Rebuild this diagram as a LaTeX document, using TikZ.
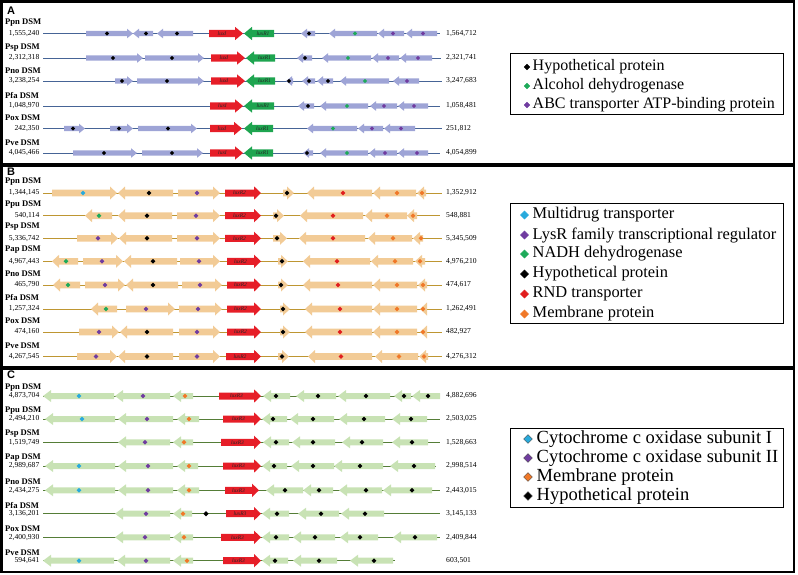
\documentclass[tikz,border=0pt]{standalone}
\usepackage{fontspec}
\setmainfont{Liberation Serif}
\newfontfamily\letterfont{Liberation Sans}

\definecolor{geneA}{RGB}{158,164,214}
\definecolor{lineA}{RGB}{70,100,150}
\definecolor{geneB}{RGB}{242,203,150}
\definecolor{lineB}{RGB}{190,150,50}
\definecolor{geneC}{RGB}{200,226,180}
\definecolor{lineC}{RGB}{85,125,55}
\definecolor{luxred}{RGB}{230,30,40}
\definecolor{luxgreen}{RGB}{30,165,80}
\definecolor{dblack}{RGB}{0,0,0}
\definecolor{dgreen}{RGB}{30,170,90}
\definecolor{dpurple}{RGB}{112,60,160}
\definecolor{dcyan}{RGB}{40,170,220}
\definecolor{dred}{RGB}{225,30,30}
\definecolor{dorange}{RGB}{240,120,40}

% gene arrow: tail, head, y, dot x, dot colour
\newcommand\gene[5]{%
  \pgfmathsetmacro\hs{#2>#1 ? max(#1,#2-\hl) : min(#1,#2+\hl)}
  \fill[gene] (#1,#3-\bh) -- (\hs,#3-\bh) -- (\hs,#3-\hh) -- (#2,#3)
    -- (\hs,#3+\hh) -- (\hs,#3+\bh) -- (#1,#3+\bh) -- cycle;
  \fill[#5] (#4,#3) +(0,-\dr) -- +(\dr,0) -- +(0,\dr) -- +(-\dr,0) -- cycle;}
% lux gene: name, tail, head, y, fill, label
\newcommand\luxgene[6]{%
  \pgfmathsetmacro\hs{#3>#2 ? #3-\lhl : #3+\lhl}
  \fill[#5] (#2,#4-\lbh) -- (\hs,#4-\lbh) -- (\hs,#4-\lhh) -- (#3,#4)
    -- (\hs,#4+\lhh) -- (\hs,#4+\lbh) -- (#2,#4+\lbh) -- cycle;
  \node[luxtext] (#1) at ({(#2+\hs)/2},#4) {#6};}
% strain row: name, y, label, left number, right number, line start, line end
\newcommand\strain[7]{%
  \draw[gline] (#6,#2) -- (#7,#2);
  \node[strain] (#1) at (5,#2-\lo) {#3 DSM};
  \node[startpos] (#1s) at (39.5,#2) {#4};
  \node[endpos] (#1e) at (446,#2) {#5};}
\newcommand\keydia[4]{%
  \filldraw[#4] (#1,#2) +(0,-#3) -- +(#3,0) -- +(0,#3) -- +(-#3,0) -- cycle;}

\begin{document}
\begin{tikzpicture}[x=1pt,y=-1pt,
  panel/.style={draw=black, line width=2.4pt},
  strain/.style={anchor=west, inner sep=0pt, font=\fontsize{8.6}{9}\selectfont\bfseries},
  startpos/.style={anchor=east, inner sep=0pt, font=\fontsize{7.6}{8}\selectfont},
  endpos/.style={anchor=west, inner sep=0pt, font=\fontsize{7.6}{8}\selectfont},
  luxtext/.style={inner sep=0pt, text=black!85, font=\fontsize{5.5}{6}\selectfont\itshape},
  panelname/.style={inner sep=0pt, font=\letterfont\bfseries\fontsize{11}{11}\selectfont},
  keybox/.style={draw=black, line width=0.8pt},
  keytext/.style={anchor=west, inner sep=0pt}]
\useasboundingbox (0,0) rectangle (798,574);

% panels
\draw[panel] (1.5,1.5) rectangle (794,164);
\draw[panel] (1.5,166) rectangle (794,367);
\draw[panel] (1.5,369) rectangle (794,572);
\node[panelname] (pA) at (11,10.5) {A};
\node[panelname] (pB) at (11,171.5) {B};
\node[panelname] (pC) at (11,374.5) {C};

%%% A
\begin{scope}[gene/.style={fill=geneA}, gline/.style={draw=lineA, line width=1pt}]
\def\bh{2.7}\def\hh{4.8}\def\hl{6}\def\dr{2.2}
\def\lbh{3.7}\def\lhh{6.7}\def\lhl{8}\def\lo{10.5}
\strain{aPpn}{33.5}{Ppn}{1,555,240}{1,564,712}{43}{440}
\foreach \ta/\hd/\dx/\dc in {86/133/107/dblack,153/133/146/dblack,193/157/177/dblack,315/301/309/dblack,377/329/355/dgreen,404/378/393/dpurple,437/406/423/dpurple}
  {\gene{\ta}{\hd}{33.5}{\dx}{\dc}}
\luxgene{aPpnI}{209}{243}{33.5}{luxred}{luxI}
\luxgene{aPpnR}{274}{244}{33.5}{luxgreen}{luxR1}

\strain{aPsp}{58}{Psp}{2,312,318}{2,321,741}{43}{441}
\foreach \ta/\hd/\dx/\dc in {86/143/113/dblack,145/204/172/dblack,312/297/305/dblack,371/322/348/dgreen,399/372/388/dpurple,432/400/418/dpurple}
  {\gene{\ta}{\hd}{58}{\dx}{\dc}}
\luxgene{aPspI}{211}{245}{58}{luxred}{luxI}
\luxgene{aPspR}{275}{246}{58}{luxgreen}{luxR1}

\strain{aPno}{81}{Pno}{3,238,254}{3,247,683}{43}{442}
\foreach \ta/\hd/\dx/\dc in {115/133/122/dblack,137/204/167/dblack,293/286/289/dblack,315/302/309/dblack,333/317/328/dblack,389/340/365/dgreen,419/393/407/dpurple}
  {\gene{\ta}{\hd}{81}{\dx}{\dc}}
\luxgene{aPnoI}{211}{245}{81}{luxred}{luxI}
\luxgene{aPnoR}{275}{246}{81}{luxgreen}{luxR1}

\strain{aPfa}{106}{Pfa}{1,048,970}{1,058,481}{43}{440}
\foreach \ta/\hd/\dx/\dc in {314/298/308/dblack,368/320/347/dgreen,397/370/384/dpurple,428/398/414/dpurple}
  {\gene{\ta}{\hd}{106}{\dx}{\dc}}
\luxgene{aPfaI}{210}{243}{106}{luxred}{luxI}
\luxgene{aPfaR}{274}{244}{106}{luxgreen}{luxR1}

\strain{aPox}{128.5}{Pox}{242,350}{251,812}{43}{442}
\foreach \ta/\hd/\dx/\dc in {64/85/73/dblack,110/133/119/dblack,138/197/168/dblack,357/307/333/dgreen,383/358/372/dpurple,415/384/401/dpurple}
  {\gene{\ta}{\hd}{128.5}{\dx}{\dc}}
\luxgene{aPoxI}{210}{242}{128.5}{luxred}{luxI}
\luxgene{aPoxR}{273}{244}{128.5}{luxgreen}{luxR1}

\strain{aPve}{153}{Pve}{4,045,466}{4,054,899}{43}{440}
\foreach \ta/\hd/\dx/\dc in {73/137/104/dblack,142/203/172/dblack,313/303/307/dblack,368/320/347/dgreen,397/369/385/dpurple,428/398/417/dpurple}
  {\gene{\ta}{\hd}{153}{\dx}{\dc}}
\luxgene{aPveI}{210}{243}{153}{luxred}{luxI}
\luxgene{aPveR}{273}{244}{153}{luxgreen}{luxR1}
\end{scope}

% key A
\draw[keybox] (510,53) rectangle (783,114);
\begin{scope}[font=\fontsize{16}{19}\selectfont]
\foreach \y/\dc/\txt [count=\i] in {67/dblack/Hypothetical protein,86/dgreen/Alcohol dehydrogenase,105/dpurple/ABC transporter ATP-binding protein}
  {\keydia{527}{\y}{2.8}{\dc}
   \node[keytext] (keyA\i) at (532.5,\y) {\txt};}
\end{scope}

%%% B
\begin{scope}[gene/.style={fill=geneB}, gline/.style={draw=lineB, line width=1pt}]
\def\bh{3.3}\def\hh{6.5}\def\hl{7}\def\dr{2.4}
\def\lbh{3.5}\def\lhh{6.7}\def\lhl{7}\def\lo{11.3}
\strain{bPpn}{193}{Ppn}{1,344,145}{1,352,912}{43}{442}
\foreach \ta/\hd/\dx/\dc in {52/117/83/dcyan,173/118/149/dblack,178/220/197/dpurple,283/294/287/dblack,372/307/343/dred,416/373/397/dorange,426/417/422/dorange}
  {\gene{\ta}{\hd}{193}{\dx}{\dc}}
\luxgene{bPpnR}{225}{261}{193}{luxred}{luxR2}

\strain{bPpu}{215.7}{Ppu}{540,114}{548,881}{43}{440}
\foreach \ta/\hd/\dx/\dc in {112/85/99/dgreen,172/118/147/dblack,177/220/196/dpurple,273/284/276/dblack,363/300/333/dred,407/365/387/dorange,417/407/413/dorange}
  {\gene{\ta}{\hd}{215.7}{\dx}{\dc}}
\luxgene{bPpuR}{225}{261}{215.7}{luxred}{luxR2}

\strain{bPsp}{238.3}{Psp}{5,336,742}{5,345,509}{43}{442}
\foreach \ta/\hd/\dx/\dc in {77/118/98/dpurple,172/119/147/dblack,177/220/197/dpurple,273/287/277/dblack,365/299/333/dred,412/368/393/dorange,423/413/421/dorange}
  {\gene{\ta}{\hd}{238.3}{\dx}{\dc}}
\luxgene{bPspR}{225}{261}{238.3}{luxred}{luxR2}

\strain{bPap}{261.3}{Pap}{4,967,443}{4,976,210}{43}{442}
\foreach \ta/\hd/\dx/\dc in {78/52/66/dgreen,83/123/102/dpurple,177/124/153/dblack,180/220/199/dpurple,278/288/282/dblack,370/303/337/dred,413/371/395/dorange,425/415/420/dorange}
  {\gene{\ta}{\hd}{261.3}{\dx}{\dc}}
\luxgene{bPapR}{227}{261}{261.3}{luxred}{luxR2}

\strain{bPno}{285}{Pno}{465,790}{474,617}{43}{442}
\foreach \ta/\hd/\dx/\dc in {80/53/68/dgreen,85/125/105/dpurple,178/126/153/dblack,182/222/200/dpurple,278/288/281/dblack,372/303/338/dred,417/373/397/dorange,427/418/423/dorange}
  {\gene{\ta}{\hd}{285}{\dx}{\dc}}
\luxgene{bPnoR}{227}{261}{285}{luxred}{luxR2}

\strain{bPfa}{309}{Pfa}{1,257,324}{1,262,491}{43}{442}
\foreach \ta/\hd/\dx/\dc in {117/91/106/dgreen,126/175/146/dpurple,179/222/198/dpurple,280/290/283/dblack,372/305/340/dred,417/373/397/dorange,427/420/423/dorange}
  {\gene{\ta}{\hd}{309}{\dx}{\dc}}
\luxgene{bPfaR}{227}{261}{309}{luxred}{luxR2}

\strain{bPox}{332}{Pox}{474,160}{482,927}{43}{442}
\foreach \ta/\hd/\dx/\dc in {79/119/99/dpurple,173/120/147/dblack,179/220/197/dpurple,280/290/283/dblack,372/305/340/dred,417/373/397/dorange,427/420/423/dorange}
  {\gene{\ta}{\hd}{332}{\dx}{\dc}}
\luxgene{bPoxR}{227}{261}{332}{luxred}{luxR2}

\strain{bPve}{356.5}{Pve}{4,267,545}{4,276,312}{43}{442}
\foreach \ta/\hd/\dx/\dc in {77/117/96/dpurple,173/118/147/dblack,179/220/197/dpurple,278/289/282/dblack,372/308/341/dred,418/375/399/dorange,428/419/424/dorange}
  {\gene{\ta}{\hd}{356.5}{\dx}{\dc}}
\luxgene{bPveR}{226}{261}{356.5}{luxred}{luxR2}
\end{scope}

% key B
\draw[keybox] (510,203) rectangle (783,323);
\begin{scope}[font=\fontsize{16.4}{19}\selectfont]
\foreach \y/\dc/\txt [count=\i] in {215/dcyan/Multidrug transporter,235/dpurple/LysR family transcriptional regulator,254/dgreen/NADH dehydrogenase,274/dblack/Hypothetical protein,294/dred/RND transporter,314/dorange/Membrane protein}
  {\keydia{524.5}{\y}{4}{\dc}
   \node[keytext] (keyB\i) at (532.5,\y) {\txt};}
\end{scope}

%%% C
\begin{scope}[gene/.style={fill=geneC}, gline/.style={draw=lineC, line width=1pt}]
\def\bh{3}\def\hh{6}\def\hl{8}\def\dr{2.4}
\def\lbh{3.5}\def\lhh{6.7}\def\lhl{7}\def\lo{8.5}
\strain{cPpn}{396}{Ppn}{4,873,704}{4,882,696}{43}{440}
\foreach \ta/\hd/\dx/\dc in {114/43/79/dcyan,170/115/143/dpurple,193/173/185/dorange,290/263/276/dblack,336/296/318/dblack,390/338/366/dblack,411/394/404/dblack,440/412/428/dblack}
  {\gene{\ta}{\hd}{396}{\dx}{\dc}}
\luxgene{cPpnR}{219}{261}{396}{luxred}{luxR3}

\strain{cPpu}{419}{Ppu}{2,494,210}{2,503,025}{43}{440}
\foreach \ta/\hd/\dx/\dc in {115/45/82/dcyan,173/118/147/dpurple,199/177/189/dorange,287/262/273/dblack,334/290/313/dblack,385/339/364/dblack,427/392/411/dblack}
  {\gene{\ta}{\hd}{419}{\dx}{\dc}}
\luxgene{cPpuR}{223}{261}{419}{luxred}{luxR3}

\strain{cPsp}{442.3}{Psp}{1,519,749}{1,528,663}{43}{440}
\foreach \ta/\hd/\dx/\dc in {170/118/145/dpurple,193/173/184/dorange,289/263/276/dblack,335/292/313/dblack,383/342/362/dblack,428/392/412/dblack}
  {\gene{\ta}{\hd}{442.3}{\dx}{\dc}}
\luxgene{cPspR}{221}{261}{442.3}{luxred}{luxR3}

\strain{cPap}{466}{Pap}{2,989,687}{2,998,514}{43}{436}
\foreach \ta/\hd/\dx/\dc in {115/45/79/dcyan,173/118/148/dpurple,198/177/189/dorange,287/262/274/dblack,334/291/313/dblack,383/334/360/dblack,435/390/414/dblack}
  {\gene{\ta}{\hd}{466}{\dx}{\dc}}
\luxgene{cPapR}{223}{261}{466}{luxred}{luxR3}

\strain{cPno}{490.3}{Pno}{2,434,275}{2,443,015}{43}{440}
\foreach \ta/\hd/\dx/\dc in {115/45/79/dcyan,173/118/148/dpurple,199/177/189/dorange,303/266/285/dblack,333/303/319/dblack,382/339/366/dblack,432/383/412/dblack}
  {\gene{\ta}{\hd}{490.3}{\dx}{\dc}}
\luxgene{cPnoR}{225}{259}{490.3}{luxred}{luxR3}

\strain{cPfa}{513.7}{Pfa}{3,136,201}{3,145,133}{43}{440}
\foreach \ta/\hd/\dx/\dc in {170/115/146/dpurple,192/173/183/dorange,289/262/277/dblack,339/298/321/dblack,384/341/365/dblack}
  {\gene{\ta}{\hd}{513.7}{\dx}{\dc}}
\fill[dblack] (206,513.7) +(0,-2.6) -- +(2.6,0) -- +(0,2.6) -- +(-2.6,0) -- cycle;
\luxgene{cPfaR}{226}{261}{513.7}{luxred}{luxR3}

\strain{cPox}{537.3}{Pox}{2,400,930}{2,409,844}{43}{440}
\foreach \ta/\hd/\dx/\dc in {170/115/145/dpurple,193/173/184/dorange,289/262/276/dblack,335/293/315/dblack,378/340/360/dblack,437/393/415/dblack}
  {\gene{\ta}{\hd}{537.3}{\dx}{\dc}}
\luxgene{cPoxR}{221}{261}{537.3}{luxred}{luxR3}

\strain{cPve}{560.7}{Pve}{594,641}{603,501}{43}{395}
\foreach \ta/\hd/\dx/\dc in {114/43/79/dcyan,170/117/146/dpurple,193/173/187/dorange,288/262/275/dblack,337/293/319/dblack,393/350/374/dblack}
  {\gene{\ta}{\hd}{560.7}{\dx}{\dc}}
\luxgene{cPveR}{223}{261}{560.7}{luxred}{luxR3}
\end{scope}

% key C
\draw[keybox] (510,428) rectangle (783,507);
\begin{scope}[font=\fontsize{18.5}{19}\selectfont]
\foreach \y/\dc/\txt [count=\i] in {439/dcyan/Cytochrome c oxidase subunit I,458/dpurple/Cytochrome c oxidase subunit II,477/dorange/Membrane protein,496/dblack/Hypothetical protein}
  {\keydia{528}{\y}{4.3}{draw=black!70, line width=0.4pt, fill=\dc}
   \node[keytext] (keyC\i) at (536.5,\y) {\txt};}
\end{scope}
\end{tikzpicture}
\end{document}
